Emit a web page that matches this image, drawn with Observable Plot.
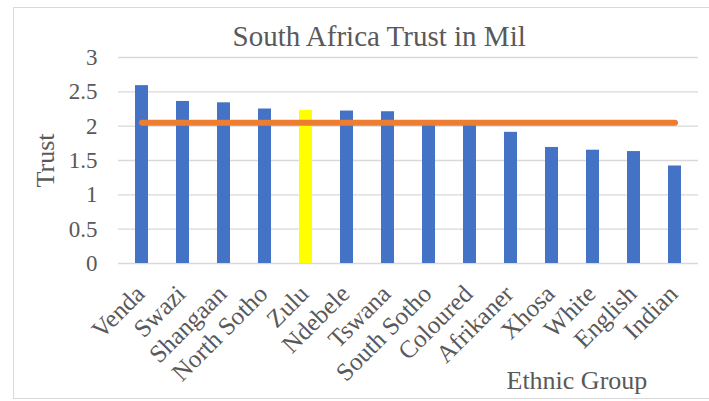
<!DOCTYPE html>
<html>
<head>
<meta charset="utf-8">
<script src="https://cdn.jsdelivr.net/npm/d3@7"></script>
<script src="https://cdn.jsdelivr.net/npm/@observablehq/plot@0.6"></script>
<style>
  html, body { margin: 0; padding: 0; background: #fff; }
  #wrap { position: relative; width: 709px; height: 401px; overflow: hidden; }
  #frame { position: absolute; left: 13px; top: 7px; width: 720px; height: 392px; border: 1.5px solid #d9d9d9; box-sizing: border-box; pointer-events: none; }
  svg { font-family: "Liberation Serif", "Times New Roman", serif; }
</style>
</head>
<body>
<div id="wrap"><div id="frame"></div></div>
<script>
const title = "South Africa Trust in Mil";
const yLabel = "Trust";
const xLabel = "Ethnic Group";
const groups = ["Venda", "Swazi", "Shangaan", "North Sotho", "Zulu", "Ndebele", "Tswana", "South Sotho", "Coloured", "Afrikaner", "Xhosa", "White", "English", "Indian"];
const trust = [2.59, 2.36, 2.34, 2.25, 2.23, 2.22, 2.21, 2.05, 2.04, 1.91, 1.69, 1.65, 1.63, 1.42];
const average = [2.05, 2.05, 2.05, 2.05, 2.05, 2.05, 2.05, 2.05, 2.05, 2.05, 2.05, 2.05, 2.05, 2.05];
const highlighted = ["Zulu"];
const yTicks = [0, 0.5, 1, 1.5, 2, 2.5, 3];

const bars = groups.map((g, i) => ({group: g, trust: trust[i], hl: highlighted.includes(g)}));
const avgLine = groups.map((g, i) => ({group: g, value: average[i]}));

const grey = "#595959";

const chart = Plot.plot({
  width: 709,
  height: 401,
  marginLeft: 118,
  marginRight: 11,
  marginTop: 57,
  marginBottom: 138,
  style: {fontFamily: "'Liberation Serif', 'Times New Roman', serif", color: grey, background: "transparent"},
  x: {domain: groups, paddingInner: 0.686, paddingOuter: 0.343, align: 0.5, axis: null},
  y: {domain: [0, 3], axis: null},
  marks: [
    Plot.ruleY(yTicks, {stroke: "#d9d9d9", strokeWidth: 1.4}),
    Plot.axisY({ticks: yTicks, tickSize: 0, tickPadding: 21, fontSize: 23, fill: grey, tickFormat: d => String(d), label: null}),
    Plot.barY(bars, {x: "group", y: "trust", fill: d => d.hl ? "#FFFF00" : "#4472C4"}),
    Plot.line(avgLine, {x: "group", y: "value", stroke: "#ED7D31", strokeWidth: 6, strokeLinecap: "round"}),
    Plot.text(groups, {x: d => d, frameAnchor: "bottom", rotate: -45, textAnchor: "end", lineAnchor: "bottom", dx: 4, dy: 32, fontSize: 25, fill: grey}),
    Plot.text([title], {frameAnchor: "top-left", dx: 232 - 118, dy: -12, textAnchor: "start", lineAnchor: "bottom", fontSize: 29, fill: grey}),
    Plot.text([yLabel], {frameAnchor: "left", dx: 53 - 118, dy: 0, rotate: -90, textAnchor: "middle", lineAnchor: "bottom", fontSize: 26, fill: grey}),
    Plot.text([xLabel], {frameAnchor: "bottom-left", dx: 506 - 118, dy: 125, textAnchor: "start", lineAnchor: "bottom", fontSize: 26, fill: grey})
  ]
});
document.getElementById("wrap").insertBefore(chart, document.getElementById("frame"));
</script>
</body>
</html>
